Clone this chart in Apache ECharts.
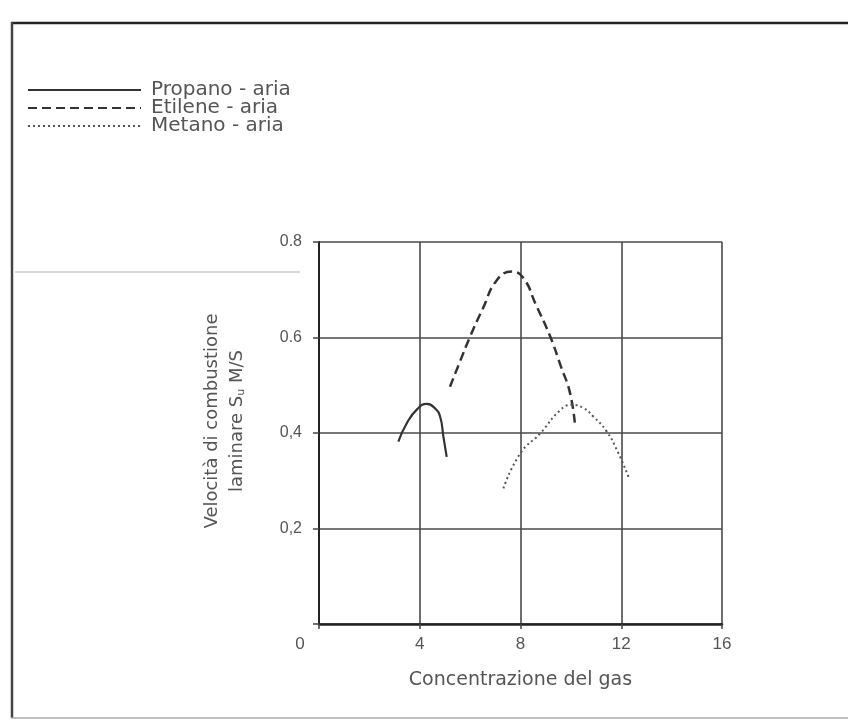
<!DOCTYPE html>
<html><head><meta charset="utf-8">
<script src="https://cdn.jsdelivr.net/npm/echarts@6/dist/echarts.min.js"></script>
<style>html,body{margin:0;padding:0;background:#fff;}#c{width:848px;height:720px;}</style>
</head><body><div id="c"></div>
<script>
var seriesNames = ['Propano - aria', 'Etilene - aria', 'Metano - aria'];
var propano = [[3.15,0.382],[3.48,0.420],[3.9,0.450],[4.28,0.461],[4.6,0.452],[4.81,0.434],[4.94,0.392],[5.07,0.350]];
var etilene = [[5.2,0.497],[5.6,0.550],[6.0,0.602],[6.5,0.660],[7.06,0.720],[7.66,0.738],[8.12,0.724],[8.6,0.670],[9.18,0.602],[9.6,0.540],[9.97,0.483],[10.17,0.413]];
var metano = [[7.32,0.284],[7.99,0.357],[8.78,0.399],[9.58,0.448],[10.04,0.459],[10.5,0.452],[10.9,0.434],[11.4,0.405],[11.83,0.364],[12.29,0.308]];
var xTickLabels = ['0','4','8','12','16'];
var yTickLabels = ['', '0,2', '0,4', '0.6', '0.8'];
var xName = 'Concentrazione del gas';
var yNameLine1 = 'Velocità di combustione';
var yNameLine2 = 'laminare S';

var chart = echarts.init(document.getElementById('c'));
var txt = '#555';
var font = 'DejaVu Sans';
var tickFont = 'Liberation Sans';
var lineCol = '#333';
chart.setOption({
  animation: false,
  backgroundColor: '#fff',
  textStyle: {fontFamily: font},
  legend: {
    orient: 'vertical', left: 22, top: 75, itemGap: -2,
    itemWidth: 113, itemHeight: 14,
    itemStyle: {opacity: 0},
    textStyle: {color: txt, fontSize: 20, fontFamily: font, lineHeight: 18, padding: [0,0,0,5]},
    data: seriesNames
  },
  graphic: [
    {type:'line', shape:{x1:11,y1:23,x2:848,y2:23}, style:{stroke:'#222', lineWidth:2.5}},
    {type:'line', shape:{x1:12,y1:22,x2:12,y2:718}, style:{stroke:'#444', lineWidth:2.5}},
    {type:'line', shape:{x1:11,y1:718,x2:848,y2:718}, style:{stroke:'#aaa', lineWidth:1.5}},
    {type:'line', shape:{x1:15,y1:272,x2:300,y2:272}, style:{stroke:'#ccc', lineWidth:1.5}}
  ],
  grid: {left: 319, right: 126, top: 242, bottom: 96},
  xAxis: {
    type: 'value', min: 0, max: 16, interval: 4,
    name: xName, nameLocation: 'middle', nameGap: 47,
    nameTextStyle: {color: txt, fontSize: 19, fontFamily: font},
    axisLine: {lineStyle: {color: '#222', width: 2.5}},
    axisTick: {show: true, length: 5, lineStyle: {color: '#444', width: 1.5}},
    axisLabel: {
      color: txt, fontSize: 17, margin: 12, fontFamily: tickFont,
      formatter: function (v) {
        var s = xTickLabels[Math.round(v / 4)];
        return v === 0 ? '{o|' + s + '}' : s;
      },
      rich: {o: {color: txt, fontSize: 17, fontFamily: tickFont, padding: [0, 38, 0, 0]}}
    },
    splitLine: {show: true, lineStyle: {color: '#4a4a4a', width: 1.6}}
  },
  yAxis: {
    type: 'value', min: 0, max: 0.8, interval: 0.2,
    name: '{a|' + yNameLine1 + '}\n{a|' + yNameLine2 + '}{s|u}{a| M/S}',
    nameLocation: 'middle', nameRotate: 90, nameGap: 69,
    nameTextStyle: {
      color: txt, fontSize: 18, fontFamily: font, lineHeight: 25, padding: [0,0,0,24],
      rich: {
        a: {color: txt, fontSize: 18, fontFamily: font, lineHeight: 25},
        s: {color: txt, fontSize: 11, fontFamily: font, lineHeight: 25, padding: [8,0,0,0]}
      }
    },
    axisLine: {show: true, lineStyle: {color: '#222', width: 2}},
    axisTick: {show: true, length: 6, lineStyle: {color: '#444', width: 1.5}},
    axisLabel: {
      color: txt, fontSize: 16, margin: 17, fontFamily: tickFont,
      formatter: function (v) { return yTickLabels[Math.round(v / 0.2)]; }
    },
    splitLine: {show: true, lineStyle: {color: '#4a4a4a', width: 1.6}}
  },
  series: [
    {name: seriesNames[0], type: 'line', data: propano, smooth: true, symbol: 'none',
     lineStyle: {color: lineCol, width: 2.2, type: 'solid'}, itemStyle: {color: lineCol}},
    {name: seriesNames[1], type: 'line', data: etilene, smooth: true, symbol: 'none',
     lineStyle: {color: lineCol, width: 2.5, type: [9, 5]}, itemStyle: {color: lineCol}},
    {name: seriesNames[2], type: 'line', data: metano, smooth: true, symbol: 'none',
     lineStyle: {color: '#555', width: 2, type: [2, 3]}, itemStyle: {color: '#555'}}
  ]
});
</script></body></html>
